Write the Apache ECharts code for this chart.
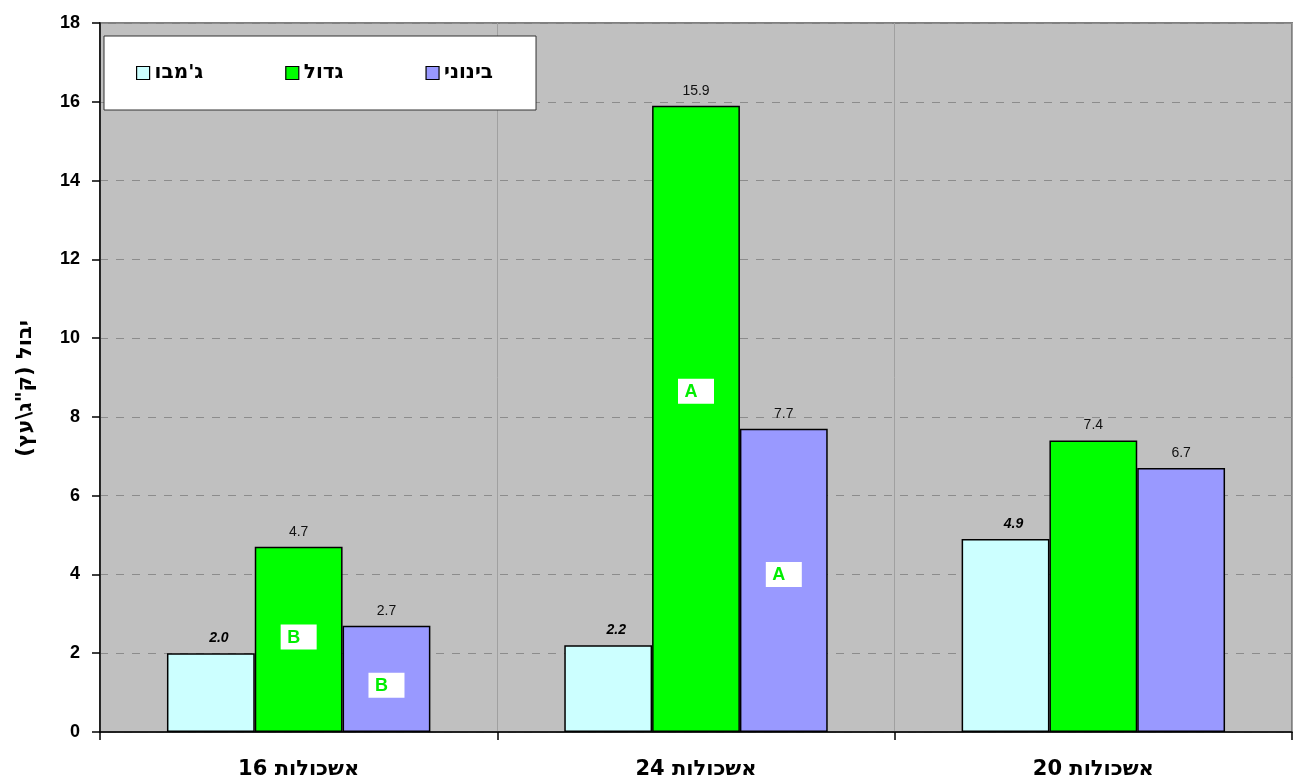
<!DOCTYPE html>
<html>
<head>
<meta charset="utf-8">
<script src="https://cdn.jsdelivr.net/npm/echarts@6/dist/echarts.min.js"></script>
<style>
  html, body { margin: 0; padding: 0; background: #fff; }
  #chart { width: 1297px; height: 781px; direction: rtl; }
</style>
</head>
<body>
<div id="chart"></div>
<script>
// Orchard blocks (x categories)
const categories = ['אשכולות 16', 'אשכולות 24', 'אשכולות 20'];

// Yield per tree by fruit size class
const seriesNames = ["ג'מבו", 'גדול', 'בינוני'];
const jumboValues = [2.0, 2.2, 4.9];
const largeValues = [4.7, 15.9, 7.4];
const mediumValues = [2.7, 7.7, 6.7];

// Y axis scale
const yMin = 0;
const yMax = 18;
const yStep = 2;
const yTitle = 'יבול (ק"ג\\עץ)';

// Significance letters: [category, height on value axis, letter]
const largeLetters = [['אשכולות 16', 2.41, 'B'], ['אשכולות 24', 8.65, 'A']];
const mediumLetters = [['אשכולות 16', 1.19, 'B'], ['אשכולות 24', 4.0, 'A']];

const FONT = '"Liberation Sans", Arial, "DejaVu Sans", sans-serif';
const HEB_FONT = '"DejaVu Sans", "Liberation Sans", sans-serif';
const colors = ['#ccffff', '#00ff00', '#9999ff'];

function letterMarks(list) {
  return {
    symbol: 'rect',
    symbolSize: [36, 25],
    itemStyle: { color: '#ffffff', borderWidth: 0 },
    label: {
      show: true,
      position: 'inside',
      color: '#00ee00',
      fontFamily: FONT,
      fontWeight: 'bold',
      fontSize: 18,
      offset: [-5, 1],
      formatter: p => p.data.letter
    },
    emphasis: { disabled: true },
    data: list.map(([cat, y, letter]) => ({ coord: [cat, y], letter }))
  };
}

function barSeries(name, values, color, labelStyle, marks) {
  const s = {
    name,
    type: 'bar',
    data: values,
    barGap: '0%',
    barCategoryGap: '33.7%',
    itemStyle: { color, borderColor: '#000', borderWidth: 1.5 },
    label: Object.assign({
      show: true,
      position: 'top',
      distance: 8,
      color: '#111',
      fontFamily: FONT,
      fontSize: 14,
      formatter: p => p.value.toFixed(1)
    }, labelStyle),
    emphasis: { disabled: true }
  };
  if (marks) s.markPoint = letterMarks(marks);
  return s;
}

const chart = echarts.init(document.getElementById('chart'), null, { renderer: 'canvas' });
chart.setOption({
  animation: false,
  backgroundColor: '#ffffff',
  color: colors,
  textStyle: { fontFamily: FONT },
  grid: {
    left: 100, right: 5, top: 23, bottom: 49,
    show: true,
    backgroundColor: '#c0c0c0',
    borderColor: '#808080',
    borderWidth: 2
  },
  legend: {
    left: 104,
    top: 36,
    orient: 'horizontal',
    backgroundColor: '#ffffff',
    borderColor: '#333',
    borderWidth: 1,
    padding: [27, 43, 27, 32],
    itemGap: 82,
    itemWidth: 13,
    itemHeight: 13,
    icon: 'rect',
    itemStyle: { borderColor: '#000', borderWidth: 1.2 },
    textStyle: { fontFamily: HEB_FONT, fontWeight: 'bold', fontSize: 20, color: '#000' },
    data: seriesNames
  },
  xAxis: {
    type: 'category',
    data: categories,
    axisLine: { lineStyle: { color: '#000', width: 1.5 } },
    axisTick: { show: true, length: 8, interval: 0, lineStyle: { color: '#000', width: 1.5 } },
    axisLabel: { color: '#000', fontFamily: HEB_FONT, fontWeight: 'bold', fontSize: 21, margin: 27 },
    splitLine: { show: true, interval: 0, lineStyle: { color: '#a0a0a0', width: 1 } }
  },
  yAxis: {
    type: 'value',
    min: yMin,
    max: yMax,
    interval: yStep,
    name: yTitle,
    nameLocation: 'middle',
    nameRotate: 90,
    nameGap: 64,
    nameTextStyle: { color: '#000', fontFamily: HEB_FONT, fontWeight: 'bold', fontSize: 21, padding: [0, 22, 0, 0] },
    axisLine: { show: true, lineStyle: { color: '#000', width: 1.5 } },
    axisTick: { show: true, length: 8, lineStyle: { color: '#000', width: 1.5 } },
    axisLabel: { color: '#000', fontFamily: FONT, fontWeight: 'bold', fontSize: 18, margin: 20 },
    splitLine: { show: true, lineStyle: { color: '#8c8c8c', width: 1, type: [8, 8] } }
  },
  series: [
    barSeries(seriesNames[0], jumboValues, colors[0],
      { fontWeight: 'bold', fontStyle: 'italic', color: '#000', offset: [8, 0] }),
    barSeries(seriesNames[1], largeValues, colors[1], {}, largeLetters),
    barSeries(seriesNames[2], mediumValues, colors[2], {}, mediumLetters)
  ]
});
</script>
</body>
</html>
